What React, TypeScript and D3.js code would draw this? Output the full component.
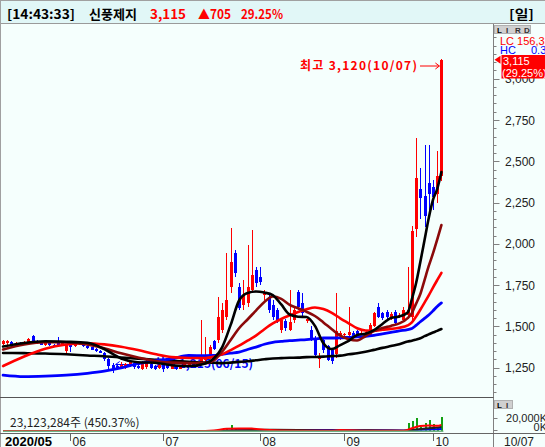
import React from "react";
import * as d3 from "d3";

// ---------- DATA ----------
const OPEN = [1395,1398,1408,1390,1402,1392,1405,1440,1412,1400,
 1388,1400,1390,1398,1384,1350,1388,1380,1395,1400,
 1384,1374,1362,1352,1340,1300,1265,1262,1248,1255,
 1262,1280,1262,1245,1255,1272,1262,1250,1265,1262,
 1245,1262,1245,1260,1265,1275,1262,1285,1295,1315,
 1410,1418,1478,1557,1738,1944,1738,1630,1642,1721,
 1842,1800,1690,1678,1630,1599,1478,1530,1478,1540,
 1708,1640,1530,1478,1430,1300,1418,1380,1360,1330,
 1440,1445,1450,1460,1470,1450,1455,1448,1500,1620,
 1580,1590,1545,1590,1560,1540,1570,1560,2090,2330,
 2290,2370,2346,2300,2410];
const HIGH = [1420,1418,1412,1405,1408,1412,1432,1445,1418,1405,
 1405,1408,1396,1436,1405,1392,1392,1405,1410,1405,
 1390,1378,1370,1360,1345,1310,1278,1270,1285,1280,
 1290,1285,1270,1290,1300,1278,1268,1275,1270,1268,
 1270,1268,1268,1285,1280,1280,1290,1540,1436,1390,
 1420,1680,1640,1944,2096,1963,1760,1780,1993,2084,
 1860,1860,1720,1700,1660,1610,1545,1545,1720,1620,
 1720,1700,1560,1500,1440,1340,1430,1390,1370,1700,
 1470,1460,1620,1470,1480,1470,1470,1520,1585,1640,
 1590,1600,1585,1600,1580,1620,1860,2110,2640,2460,
 2600,2600,2386,2560,3120];
const LOW = [1385,1390,1382,1382,1385,1388,1400,1405,1395,1385,
 1383,1380,1378,1385,1380,1340,1345,1378,1388,1378,
 1365,1355,1345,1338,1290,1235,1215,1238,1244,1245,
 1255,1245,1240,1235,1240,1240,1238,1245,1225,1240,
 1240,1238,1240,1255,1258,1250,1255,1278,1285,1305,
 1355,1400,1460,1540,1700,1800,1600,1600,1620,1700,
 1740,1750,1660,1580,1540,1520,1460,1470,1470,1520,
 1600,1560,1520,1410,1320,1250,1340,1290,1270,1310,
 1420,1440,1440,1430,1440,1445,1450,1440,1495,1550,
 1540,1540,1540,1510,1550,1530,1545,1540,2040,2150,
 2100,2200,2205,2250,2380];
const CLOSE = [1410,1410,1390,1400,1392,1406,1425,1410,1398,1390,
 1398,1386,1382,1388,1398,1385,1378,1398,1402,1382,
 1372,1360,1352,1342,1300,1262,1240,1246,1268,1275,
 1285,1255,1246,1270,1280,1250,1245,1268,1245,1248,
 1262,1245,1258,1280,1275,1260,1282,1305,1320,1375,
 1365,1555,1600,1660,1890,1823,1611,1690,1738,1811,
 1763,1770,1710,1599,1560,1539,1539,1490,1527,1600,
 1617,1580,1545,1418,1327,1320,1357,1297,1290,1470,
 1460,1452,1465,1440,1450,1462,1465,1510,1580,1560,
 1550,1555,1575,1520,1570,1600,1600,2080,2400,2280,
 2170,2300,2285,2410,3115];
// volume in thousands of shares
const VOLUME = [620,540,480,450,510,470,690,600,430,390,
 410,450,380,560,420,520,610,480,400,450,
 430,390,420,450,820,1100,980,640,560,490,
 530,470,420,510,560,430,380,400,520,450,
 380,360,400,480,450,420,560,2800,1500,1200,
 900,2200,1800,3500,10000,4200,2600,1800,3000,5500,
 2400,1600,1100,1300,1100,900,800,700,1500,1000,
 1100,800,600,700,900,1000,700,800,900,2200,
 900,600,1600,600,500,450,500,900,1300,1100,
 700,600,550,700,500,1200,13000,17000,22800,7200,
 13000,18700,11200,5134,23123];

// moving averages (read at these candle indices)
const MA_IDX = [0,5,10,15,20,24,28,32,36,40,44,48,50,52,54,56,58,60,62,64,66,68,70,72,74,76,78,80,82,84,86,88,90,92,94,96,97,98,99,100,101,102,103,104];
const MA5 = [1378,1400,1410,1407,1401,1363,1306,1283,1280,1265,1259,1276,1306,1375,1509,1657,1702,1711,1705,1690,1633,1572,1559,1557,1503,1398,1363,1387,1412,1448,1456,1478,1515,1551,1560,1584,1666,1763,1890,2023,2157,2266,2332,2435];
const MA20 = [1360,1390,1404,1403,1390,1367,1337,1312,1291,1281,1278,1278,1294,1348,1418,1489,1542,1596,1648,1681,1667,1631,1610,1589,1563,1524,1483,1444,1423,1415,1442,1472,1490,1503,1518,1550,1581,1638,1696,1781,1866,1942,2026,2114];
const MA60 = [1260,1318,1365,1390,1398,1391,1377,1357,1333,1314,1309,1309,1316,1331,1357,1384,1414,1444,1483,1518,1545,1567,1587,1604,1615,1605,1582,1549,1519,1489,1475,1474,1480,1485,1492,1506,1524,1560,1601,1644,1688,1735,1780,1824];
const MA120 = [1205,1196,1199,1205,1216,1229,1249,1275,1292,1304,1324,1323,1324,1331,1338,1344,1360,1375,1392,1404,1409,1414,1417,1420,1424,1430,1430,1431,1434,1437,1440,1446,1455,1464,1473,1481,1487,1506,1528,1549,1569,1594,1621,1642];
const MA240 = [1339,1338,1336,1331,1324,1319,1312,1305,1298,1292,1286,1281,1280,1278,1281,1285,1289,1295,1301,1306,1308,1310,1311,1314,1315,1317,1320,1323,1331,1337,1346,1358,1370,1381,1392,1409,1413,1420,1428,1441,1452,1463,1473,1484];

const VOL_MA_IDX = [0,46,50,53,56,59,62,70,78,80,82,86,90,95,97,99,101,103,104];
const VOL_MA5 = [200,250,1200,4000,4300,4300,2400,900,900,1800,1700,900,800,700,5000,8500,9500,9000,10500];
const VOL_MA20 = [250,250,500,900,1400,2000,2300,1900,1300,1300,1300,1400,1300,900,1800,3500,5000,6000,7000];
const VOL_MA60 = [300,300,400,700,1400,1800,1900,1900,1800,1700,1600,1500,1400,1300,1700,2400,3000,3300,3600];

const MONTH_TICK_IDX = [16, 38, 61, 81, 102];
const MONTH_LABELS = ["06", "07", "08", "09", "10"];
const FIRST_LABEL = "2020/05";
const LAST_LABEL = "10/07";
const PRICE_TICKS = [1250, 1500, 1750, 2000, 2250, 2500, 2750, 3000];
const VOL_TICKS = [0, 20000];
const VOL_TICK_LABELS = ["0K", "20,000K"];

const HEADER = [
  { t: "[14:43:33]", x: 7, w: 68, c: "#000" },
  { t: "신풍제지", x: 89, w: 48, c: "#000" },
  { t: "3,115", x: 150, w: 36, c: "#f00" },
  { t: "▲705", x: 198, w: 33, c: "#f00" },
  { t: "29.25%", x: 241, w: 42, c: "#f00" },
  { t: "[일]", x: 509, w: 25, c: "#000" },
];

const HIGH_LABEL = "최고 3,120(10/07)";
const LOW_LABEL = "최저 1,215(06/15)";
const LOW_IDX = 26;
const VOL_LABEL = "23,123,284주 (450.37%)";

const RED = "#ff0000";
const BLUE = "#0000ff";
const DARKRED = "#8b0a0a";
const FONT = "'Liberation Sans', 'Noto Sans CJK KR', sans-serif";
const KFONT = "'Noto Sans CJK KR', 'Liberation Sans', sans-serif";

export default function App() {
  const n = CLOSE.length;
  const W = 545, H = 447;
  const x = d3.scaleLinear().domain([0, n - 1]).range([3.06, 441.4]);
  const y = d3.scaleLinear().domain([1250, 2750]).range([367.7, 120]);
  const yv = d3.scaleLinear().domain([0, 20000]).range([431.2, 419.2]);
  const axisX = 493.5;

  const maPath = (vals: number[]) =>
    d3.line<number>().x((_, k) => x(MA_IDX[k])).y((v) => y(v)).curve(d3.curveMonotoneX)(vals) || "";
  const volMaPath = (vals: number[]) =>
    d3.line<number>().x((_, k) => x(VOL_MA_IDX[k])).y((v) => yv(v)).curve(d3.curveMonotoneX)(vals) || "";

  const minorTicks = d3.range(1100, 3351, 50).filter((p) => y(p) > 27 && y(p) < 395);
  const lastX = x(n - 1);
  const lowX = x(LOW_IDX);

  return (
    <>
      <style>{"body{margin:0;}"}</style>
      <svg width={W} height={H} style={{ display: "block" }} fontFamily={FONT}>
        <rect x={0} y={0} width={W} height={H} fill="#f5fffd" />
        {/* header */}
        <rect x={0} y={0} width={W} height={23.5} fill="#e1f7f7" />
        <line x1={0} x2={W} y1={23.5} y2={23.5} stroke="#9a9a9a" />
        <line x1={0} x2={W} y1={0.5} y2={0.5} stroke="#a0a0a0" />
        <line x1={0.5} x2={0.5} y1={0} y2={H} stroke="#a0a0a0" />
        {HEADER.map((h) => (
          <text key={h.t} x={h.x} y={18.5} fill={h.c} fontSize={13} fontWeight="bold"
            fontFamily={KFONT} textLength={h.w} lengthAdjust="spacingAndGlyphs">{h.t}</text>
        ))}

        {/* low annotation (behind candles) */}
        <text x={253} y={368} textAnchor="end" fill={BLUE} fontSize={12} fontWeight="bold" fontFamily={KFONT}>{LOW_LABEL}</text>
        <path d={`M${lowX + 3},364.5 H140 M${lowX + 7},361.5 L${lowX + 3},364.5 L${lowX + 7},367.5`} stroke={BLUE} fill="none" strokeWidth={1} />

        {/* candles */}
        <g shapeRendering="crispEdges">
          {CLOSE.map((c, i) => {
            const o = OPEN[i];
            const col = c >= o ? RED : BLUE;
            const cx = Math.round(x(i));
            const top = y(Math.max(o, c));
            const bot = y(Math.min(o, c));
            return (
              <g key={i}>
                <line x1={cx + 0.5} x2={cx + 0.5} y1={y(HIGH[i])} y2={y(LOW[i])} stroke={col} strokeWidth={1} />
                <rect x={cx - 1} y={top} width={3} height={Math.max(1, bot - top)} fill={col} />
              </g>
            );
          })}
        </g>

        {/* moving averages */}
        <g fill="none" strokeLinejoin="round" strokeLinecap="round">
          <path d={maPath(MA240)} stroke="#000" strokeWidth={2.6} />
          <path d={maPath(MA120)} stroke={BLUE} strokeWidth={2.8} />
          <path d={maPath(MA60)} stroke={RED} strokeWidth={2.6} />
          <path d={maPath(MA20)} stroke={DARKRED} strokeWidth={2.6} />
          <path d={maPath(MA5)} stroke="#000" strokeWidth={2.6} />
        </g>

        {/* high annotation */}
        <text x={300} y={70} fill={RED} fontSize={12} fontWeight="bold" fontFamily={KFONT} textLength={117} lengthAdjust="spacing">{HIGH_LABEL}</text>
        <path d={`M420,66 H${lastX - 2} M${lastX - 6},63 L${lastX - 2},66 L${lastX - 6},69`} stroke={RED} fill="none" strokeWidth={1} />

        {/* right price axis */}
        <line x1={axisX} x2={axisX} y1={24} y2={H} stroke="#808080" />
        {minorTicks.map((p) => (
          <line key={p} x1={axisX} x2={axisX + 3} y1={Math.round(y(p)) + 0.5} y2={Math.round(y(p)) + 0.5} stroke="#808080" />
        ))}
        {PRICE_TICKS.map((p) => (
          <g key={p}>
            <line x1={axisX} x2={axisX + 6} y1={Math.round(y(p)) + 0.5} y2={Math.round(y(p)) + 0.5} stroke="#808080" />
            <text x={505} y={y(p) + 4.5} fontSize={12} fill="#222">{d3.format(",")(p)}</text>
          </g>
        ))}
        {/* LIRD box */}
        <rect x={494.5} y={25.5} width={36} height={8} fill="#d0d0d0" stroke="#b0b0b0" />
        {["L", "I", "R", "D"].map((ch, k) => (
          <text key={ch} x={497 + k * 9} y={32.5} fontSize={8} fontWeight="bold" fill={k === 0 ? "#000" : "#333"}>{ch}</text>
        ))}
        <text x={500} y={45} fontSize={11} fill={RED}>LC 156,338</text>
        <text x={500} y={54} fontSize={11} fill={BLUE}>HC</text>
        <text x={531} y={54} fontSize={11} fill={BLUE}>0.3</text>
        {/* current price tag */}
        <polygon points={`494.5,${y(3115)} 500.5,${y(3115) - 4} 500.5,${y(3115) + 4}`} fill={RED} />
        <rect x={501.5} y={55} width={44} height={23.5} fill={RED} />
        <text x={503} y={65} fontSize={11} fill="#fff">3,115</text>
        <text x={502} y={76.5} fontSize={11} fill="#fff">(29.25%)</text>

        {/* volume panel */}
        <line x1={0} x2={axisX} y1={397.5} y2={397.5} stroke="#555" />
        <g shapeRendering="crispEdges">
          {VOLUME.map((v, i) => (
            <rect key={i} x={Math.round(x(i)) - 0.5} y={yv(v)} width={2} height={Math.max(0, yv(0) - yv(v))} fill="#12a012" />
          ))}
        </g>
        <g fill="none" strokeWidth={2}>
          <path d={volMaPath(VOL_MA60)} stroke={BLUE} />
          <path d={volMaPath(VOL_MA20)} stroke="#222" />
          <path d={volMaPath(VOL_MA5)} stroke={RED} />
        </g>
        <line x1={x(0)} x2={lastX + 2} y1={431.3} y2={431.3} stroke="#6fb385" strokeWidth={1.6} />
        <text x={10} y={426.5} fontSize={12} fill="#222" fontFamily={KFONT}>{VOL_LABEL}</text>
        <rect x={494.5} y={400.5} width={18} height={8} fill="#d0d0d0" stroke="#b0b0b0" />
        <text x={497} y={407.5} fontSize={8} fontWeight="bold" fill="#000">L</text>
        <text x={506} y={407.5} fontSize={8} fontWeight="bold" fill="#333">I</text>
        {VOL_TICKS.map((v, k) => (
          <g key={v}>
            <line x1={axisX} x2={axisX + 4} y1={Math.round(yv(v)) - 0.5} y2={Math.round(yv(v)) - 0.5} stroke="#808080" />
            <text x={547} y={yv(v) + (k === 0 ? 0 : 3)} textAnchor="end" fontSize={11} fill="#222">{VOL_TICK_LABELS[k]}</text>
          </g>
        ))}

        {/* x axis */}
        <line x1={0} x2={W} y1={433.5} y2={433.5} stroke="#666" />
        <text x={5} y={446} fontSize={13} fontWeight="bold" fill="#000">{FIRST_LABEL}</text>
        {MONTH_TICK_IDX.map((idx, k) => {
          const tx = Math.round(x(idx)) + 0.5;
          return (
            <g key={idx}>
              <line x1={tx} x2={tx} y1={434} y2={441} stroke="#666" />
              <text x={tx + 2} y={446} fontSize={12} fill="#222">{MONTH_LABELS[k]}</text>
            </g>
          );
        })}
        <text x={504} y={446} fontSize={12} fill="#222">{LAST_LABEL}</text>
      </svg>
    </>
  );
}
